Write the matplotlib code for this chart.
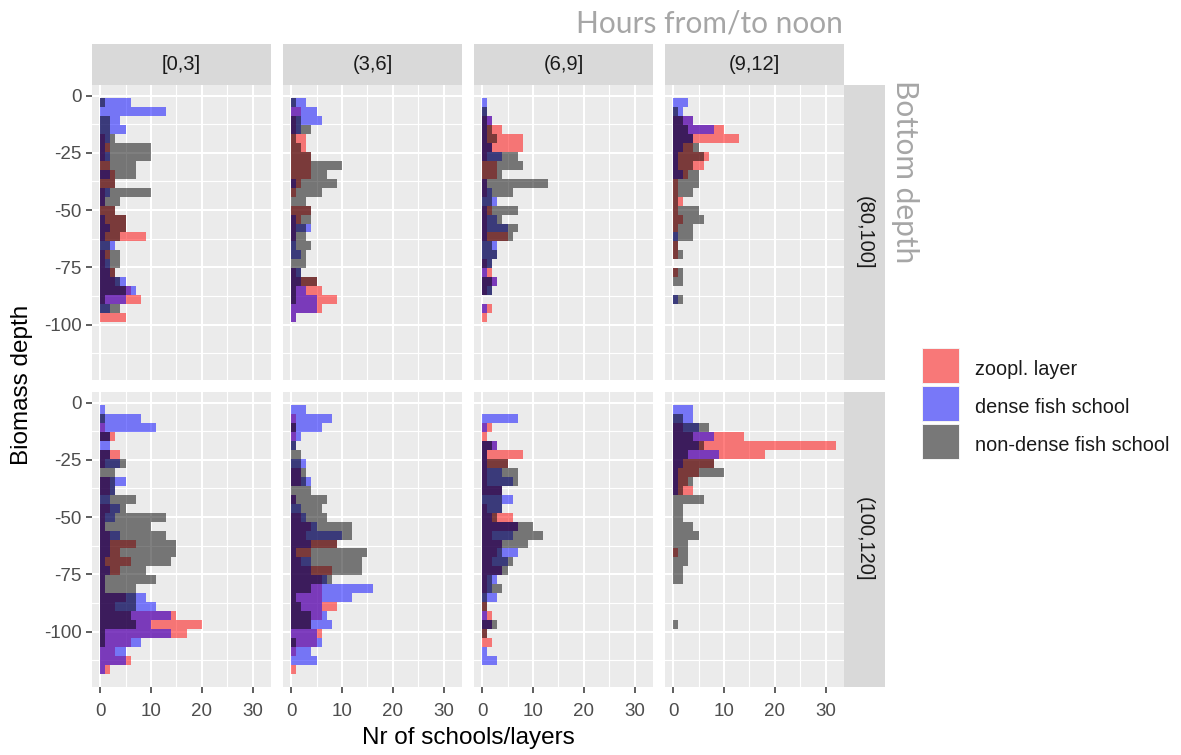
import numpy as np
import matplotlib.pyplot as plt
from matplotlib.patches import Rectangle

plt.rcParams['axes.unicode_minus'] = False
plt.rcParams['font.family'] = ['Liberation Sans', 'DejaVu Sans']

# depth bins: 30 bins of 3.9 m, first one starting at -1.25 m
BIN_TOP = -1.25
BIN_WIDTH = 3.9
N_BINS = 30

hour_groups = ['[0,3]', '(3,6]', '(6,9]', '(9,12]']
bottom_groups = ['(80,100]', '(100,120]']
series_names = ['zoopl. layer', 'dense fish school', 'non-dense fish school']

# counts per depth bin (surface -> bottom), bottom depth (80,100]
zoo_80_a = [0, 0, 0, 0, 1, 2, 1, 2, 3, 3, 1, 1, 3, 5, 5, 9, 0, 2, 1, 3, 3, 6, 8, 0, 5, 0, 0, 0, 0, 0]
dense_80_a = [6, 13, 4, 5, 2, 1, 2, 0, 2, 0, 2, 1, 0, 1, 2, 1, 3, 1, 2, 2, 5, 7, 5, 2, 0, 0, 0, 0, 0, 0]
nondense_80_a = [1, 0, 2, 2, 3, 10, 10, 7, 7, 3, 10, 4, 3, 5, 5, 4, 2, 4, 4, 3, 4, 5, 1, 4, 0, 0, 0, 0, 0, 0]

zoo_80_b = [0, 2, 1, 1, 3, 3, 4, 4, 4, 2, 1, 0, 4, 2, 1, 1, 0, 0, 0, 1, 5, 6, 9, 6, 1, 0, 0, 0, 0, 0]
dense_80_b = [3, 5, 6, 2, 0, 0, 0, 0, 0, 1, 0, 0, 0, 1, 4, 1, 1, 2, 0, 2, 2, 3, 5, 5, 1, 0, 0, 0, 0, 0]
nondense_80_b = [1, 0, 2, 4, 1, 2, 4, 10, 7, 9, 6, 3, 4, 4, 3, 3, 4, 3, 3, 2, 5, 1, 1, 0, 0, 0, 0, 0, 0, 0]

zoo_80_c = [0, 0, 2, 4, 8, 8, 1, 3, 3, 1, 1, 0, 2, 1, 1, 5, 0, 0, 1, 2, 3, 1, 0, 2, 1, 0, 0, 0, 0, 0]
dense_80_c = [1, 1, 2, 1, 1, 2, 4, 0, 0, 1, 2, 3, 1, 3, 5, 1, 3, 3, 2, 1, 3, 2, 0, 1, 0, 0, 0, 0, 0, 0]
nondense_80_c = [0, 1, 1, 2, 3, 2, 7, 8, 4, 13, 6, 2, 7, 4, 7, 6, 2, 3, 2, 0, 2, 2, 0, 0, 0, 0, 0, 0, 0, 0]

zoo_80_d = [0, 0, 4, 10, 13, 4, 7, 6, 3, 1, 1, 2, 1, 2, 1, 0, 1, 1, 0, 1, 0, 0, 0, 0, 0, 0, 0, 0, 0, 0]
dense_80_d = [3, 2, 4, 8, 4, 2, 1, 1, 2, 0, 0, 0, 0, 0, 0, 1, 0, 0, 0, 0, 0, 0, 1, 0, 0, 0, 0, 0, 0, 0]
nondense_80_d = [0, 1, 2, 3, 4, 5, 6, 4, 5, 5, 4, 1, 5, 6, 4, 4, 1, 2, 0, 2, 2, 0, 2, 0, 0, 0, 0, 0, 0, 0]

# bottom depth (100,120]
zoo_100_a = [0, 0, 1, 3, 0, 4, 1, 0, 2, 2, 0, 2, 1, 1, 2, 7, 4, 6, 4, 1, 1, 5, 3, 15, 20, 17, 6, 3, 6, 2]
dense_100_a = [1, 8, 11, 2, 2, 2, 4, 0, 5, 3, 2, 4, 3, 1, 4, 2, 2, 1, 2, 1, 1, 9, 11, 14, 10, 14, 8, 5, 5, 1]
nondense_100_a = [0, 1, 0, 2, 0, 2, 5, 3, 3, 3, 7, 5, 13, 10, 13, 15, 15, 14, 9, 11, 7, 7, 7, 6, 7, 1, 1, 0, 0, 0]

zoo_100_b = [0, 1, 1, 1, 0, 0, 0, 2, 2, 0, 1, 0, 2, 4, 3, 9, 4, 2, 8, 6, 6, 6, 9, 6, 4, 6, 5, 1, 0, 1]
dense_100_b = [3, 8, 6, 2, 1, 0, 3, 2, 4, 0, 1, 2, 3, 5, 10, 4, 1, 4, 4, 7, 16, 12, 6, 7, 8, 5, 6, 4, 5, 0]
nondense_100_b = [0, 0, 1, 0, 1, 2, 2, 3, 3, 4, 7, 6, 7, 12, 12, 9, 15, 14, 14, 8, 4, 1, 2, 4, 4, 0, 1, 0, 0, 0]

zoo_100_c = [0, 0, 2, 1, 3, 8, 5, 1, 1, 4, 0, 1, 6, 7, 2, 4, 3, 2, 4, 1, 1, 0, 1, 2, 2, 1, 2, 0, 0, 0]
dense_100_c = [0, 7, 1, 0, 3, 1, 1, 4, 6, 4, 6, 4, 2, 7, 6, 4, 7, 5, 4, 3, 2, 3, 0, 1, 2, 0, 0, 1, 3, 0]
nondense_100_c = [0, 0, 0, 0, 2, 1, 5, 7, 7, 4, 4, 4, 3, 10, 12, 9, 4, 6, 5, 2, 4, 1, 1, 0, 3, 1, 0, 0, 0, 0]

zoo_100_d = [0, 0, 2, 14, 32, 18, 8, 5, 3, 4, 0, 0, 0, 0, 0, 0, 1, 0, 0, 0, 0, 0, 0, 0, 0, 0, 0, 0, 0, 0]
dense_100_d = [4, 4, 5, 8, 5, 9, 2, 1, 1, 1, 0, 0, 0, 0, 0, 0, 0, 0, 0, 0, 0, 0, 0, 0, 0, 0, 0, 0, 0, 0]
nondense_100_d = [0, 2, 7, 4, 6, 3, 8, 10, 4, 2, 6, 2, 2, 4, 5, 3, 3, 3, 2, 2, 0, 0, 0, 0, 1, 0, 0, 0, 0, 0]

panels = [
    [(zoo_80_a, dense_80_a, nondense_80_a), (zoo_80_b, dense_80_b, nondense_80_b),
     (zoo_80_c, dense_80_c, nondense_80_c), (zoo_80_d, dense_80_d, nondense_80_d)],
    [(zoo_100_a, dense_100_a, nondense_100_a), (zoo_100_b, dense_100_b, nondense_100_b),
     (zoo_100_c, dense_100_c, nondense_100_c), (zoo_100_d, dense_100_d, nondense_100_d)],
]

fill_colors = ['#FF0000', '#0000FF', '#000000']
x_ticks = [0, 10, 20, 30]
y_ticks = [0, -25, -50, -75, -100]
y_tick_labels = ['0', '-25', '-50', '-75', '-100']

edges = BIN_TOP - BIN_WIDTH * np.arange(N_BINS + 1)
edges_up = edges[::-1]

W, H = 1181, 755
fig = plt.figure(figsize=(W / 100, H / 100), dpi=100)


def px_axes(x, y, w, h):
    return fig.add_axes([x / W, 1 - (y + h) / H, w / W, h / H])


def strip(x, y, w, h, label, rot):
    sax = px_axes(x, y, w, h)
    sax.set_facecolor('#D9D9D9')
    sax.set_xticks([])
    sax.set_yticks([])
    for s in sax.spines.values():
        s.set_visible(False)
    sax.text(0.5, 0.5, label, ha='center', va='center', rotation=rot,
             fontsize=14.5, color='#1A1A1A', transform=sax.transAxes)


col_x = [92, 283, 474, 665]
row_y = [85, 392]
pw, ph = 179, 295

for r in range(2):
    for c in range(4):
        ax = px_axes(col_x[c], row_y[r], pw, ph)
        ax.set_facecolor('#EBEBEB')
        for s in ax.spines.values():
            s.set_visible(False)
        for vals, col in zip(panels[r][c], fill_colors):
            ax.stairs(vals[::-1], edges_up, orientation='horizontal', fill=True,
                      color=col, alpha=0.5, linewidth=0)
        ax.set_xlim(-1.6, 33.6)
        ax.set_ylim(-124.1, 4.6)
        ax.set_xticks(x_ticks)
        ax.set_xticks([5, 15, 25], minor=True)
        ax.set_yticks(y_ticks)
        ax.set_yticks([-12.5, -37.5, -62.5, -87.5, -112.5], minor=True)
        ax.set_axisbelow(True)
        ax.grid(which='major', color='white', linewidth=1.5)
        ax.grid(which='minor', color='white', linewidth=0.8)
        ax.tick_params(which='minor', length=0)
        ax.tick_params(which='major', length=4.3, width=1.1, color='#333333',
                       labelsize=13.5, labelcolor='#4D4D4D', pad=3)
        ax.tick_params(axis='x', which='major', pad=7)
        if c == 0:
            ax.set_yticklabels(y_tick_labels)
        else:
            ax.tick_params(axis='y', which='major', length=0, labelleft=False)
        if r == 1:
            ax.set_xticklabels([str(t) for t in x_ticks])
        else:
            ax.tick_params(axis='x', which='major', length=0, labelbottom=False)

        # facet strips
        if r == 0:
            strip(col_x[c], 44, pw, 41, hour_groups[c], 0)
        if c == 3:
            strip(col_x[c] + pw, row_y[r], 41, ph, bottom_groups[r], -90)

# axis titles
fig.text(468 / W, 1 - 738 / H, 'Nr of schools/layers', ha='center', va='center',
         fontsize=17.5, color='black')
fig.text(22 / W, 1 - 385 / H, 'Biomass depth', ha='center', va='center',
         rotation=90, fontsize=17.5, color='black')

# facet variable captions
fig.text(843 / W, 1 - 33 / H, 'Hours from/to noon', ha='right', va='baseline',
         fontsize=21.5, color='#A6A6A6', family='Lato')
fig.text(905 / W, 1 - 80 / H, 'Bottom depth', ha='center', va='top', rotation=-90,
         fontsize=21.5, color='#A6A6A6', family='Lato')

# legend
key_y = [348, 386, 424]
for name, col, ky in zip(series_names, fill_colors, key_y):
    fig.patches.append(Rectangle((922 / W, 1 - (ky + 36) / H), 38 / W, 36 / H,
                                 transform=fig.transFigure, facecolor='#F2F2F2',
                                 edgecolor='none'))
    fig.patches.append(Rectangle((923 / W, 1 - (ky + 35) / H), 36 / W, 34 / H,
                                 transform=fig.transFigure, facecolor=col, alpha=0.5,
                                 edgecolor='none'))
    fig.text(975 / W, 1 - (ky + 27) / H, name, ha='left', va='baseline',
             fontsize=14.3, color='#1A1A1A')

fig.savefig('out.png', dpi=100)
